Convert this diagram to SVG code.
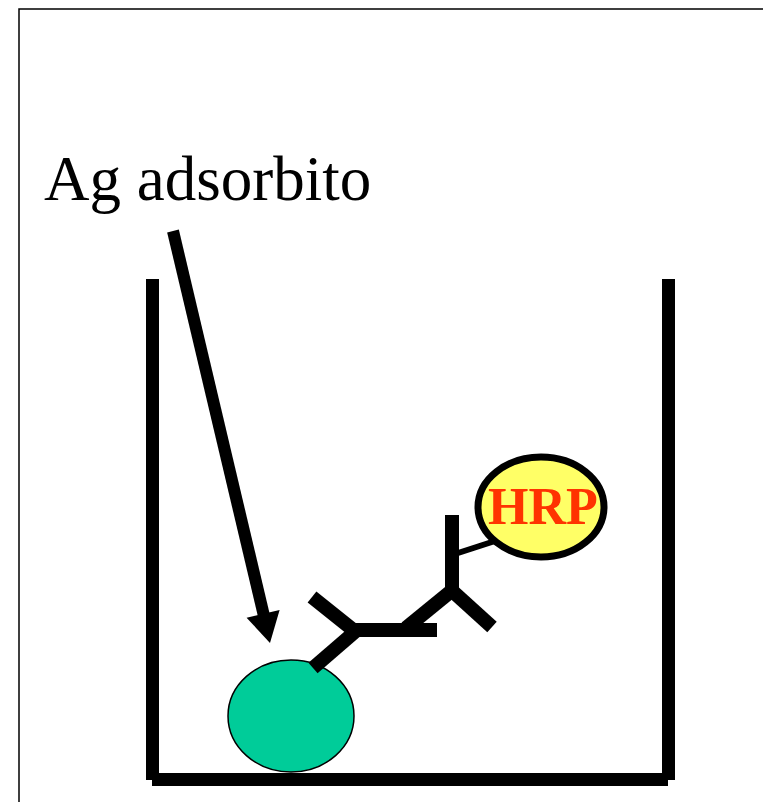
<svg xmlns="http://www.w3.org/2000/svg" width="763" height="802" viewBox="0 0 763 802">
  <style>
    .frame { fill: none; stroke: #000; stroke-width: 1.5; }
    .wall { fill: #000; }
    .bar { stroke: #000; stroke-width: 14; stroke-linecap: butt; fill: none; }
    .label { font-family: "Liberation Serif", "Times New Roman", serif; fill: #000; }
    .enzyme { font-family: "Liberation Serif", "Times New Roman", serif; font-weight: bold; fill: #FF3300; }
  </style>

  <rect class="frame" x="19" y="9" width="760" height="810"/>

  <!-- well -->
  <g id="well">
    <rect class="wall" x="146" y="279" width="13" height="501"/>
    <rect class="wall" x="662" y="279" width="13" height="501"/>
    <rect class="wall" x="152" y="773" width="516" height="13"/>
  </g>

  <g id="antigen">
    <ellipse cx="291" cy="716" rx="63" ry="56" fill="#00CC99" stroke="#000" stroke-width="1.5"/>
  </g>

  <g id="primary-antibody">
    <line class="bar" x1="313" y1="668" x2="357" y2="630"/>
    <line class="bar" x1="312" y1="597" x2="357" y2="633"/>
    <line class="bar" x1="354" y1="630" x2="437" y2="630"/>
  </g>

  <g id="secondary-antibody">
    <line class="bar" x1="452" y1="515" x2="452" y2="592"/>
    <line class="bar" x1="406" y1="628" x2="455" y2="588"/>
    <line class="bar" x1="449" y1="588" x2="492" y2="627"/>
    <line x1="458" y1="553" x2="495" y2="541" stroke="#000" stroke-width="6"/>
  </g>

  <g id="hrp">
    <ellipse cx="541" cy="507" rx="63" ry="50" fill="#FFFF66" stroke="#000" stroke-width="7"/>
    <text class="enzyme" x="543" y="524" font-size="52" text-anchor="middle">HRP</text>
  </g>

  <g id="label">
    <text class="label" x="44" y="200" font-size="63">Ag adsorbito</text>
  </g>

  <g id="connectors">
    <line x1="173" y1="231" x2="264" y2="616" stroke="#000" stroke-width="12"/>
    <polygon points="270,643 279.6,609.9 246.6,617.7" fill="#000"/>
  </g>
</svg>
